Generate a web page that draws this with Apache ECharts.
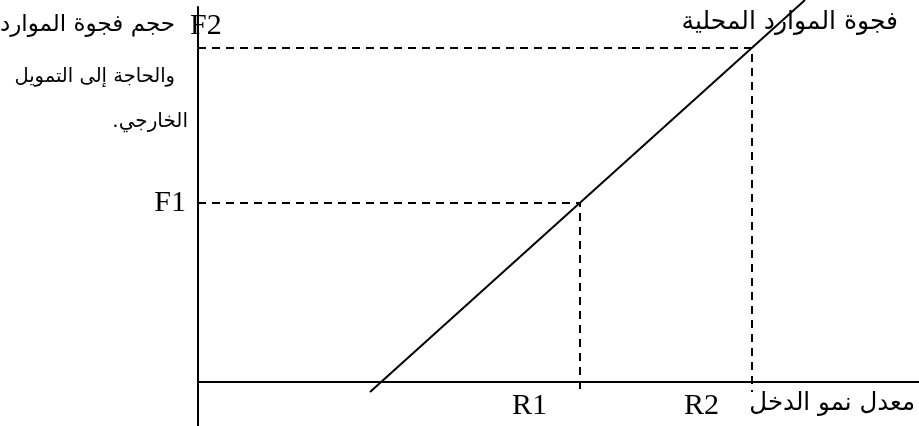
<!DOCTYPE html>
<html>
<head>
<meta charset="utf-8">
<script src="https://cdn.jsdelivr.net/npm/echarts@6/dist/echarts.min.js"></script>
<style>
  html, body { margin: 0; padding: 0; background: #fff; }
  #chart { width: 919px; height: 426px; }
</style>
</head>
<body>
<div id="chart"></div>
<script>
  // 横轴: 收入增长率, 纵轴: 资源缺口
  const gapLineX = [172, 607];
  const gapLineY = [-10, 382];
  const rValues = [382, 554];
  const rLabels = ['R1', 'R2'];
  const fValues = [179, 334];
  const fLabels = ['F1', 'F2'];
  const gapName = 'فجوة الموارد المحلية';
  const xName = 'معدل نمو الدخل';
  const yNameLines = ['حجم فجوة الموارد', 'والحاجة إلى التمويل', 'الخارجي.\u200F'];

  const serif = "'Liberation Serif', 'DejaVu Serif', serif";
  const arabic = "'DejaVu Sans', 'Liberation Sans', sans-serif";

  let chart = echarts.init(document.getElementById('chart'));

  let series = [{
    name: gapName,
    type: 'line',
    data: gapLineX.map(function (x, i) { return [x, gapLineY[i]]; }),
    symbol: 'none',
    clip: false,
    lineStyle: { color: '#000', width: 2 }
  }];
  // 虚线辅助线
  rValues.forEach(function (r, i) {
    series.push({
      name: fLabels[i],
      type: 'line',
      data: [[0, fValues[i]], [r, fValues[i]], [r, gapLineY[0]]],
      symbol: 'none',
      clip: false,
      lineStyle: { color: '#000', width: 2, type: [8, 6] }
    });
  });

  let option = {
    animation: false,
    backgroundColor: '#fff',
    grid: { left: 198, right: 0, top: 7, bottom: 0 },
    xAxis: {
      type: 'value', min: 0, max: 721,
      axisLine: { onZero: true, lineStyle: { color: '#000', width: 2 } },
      axisTick: { show: false }, axisLabel: { show: false }, splitLine: { show: false }
    },
    yAxis: {
      type: 'value', min: -44, max: 375,
      axisLine: { show: true, lineStyle: { color: '#000', width: 2 } },
      axisTick: { show: false }, axisLabel: { show: false }, splitLine: { show: false }
    },
    series: series
  };
  chart.setOption(option);

  // 文字标注
  let px = function (x, y) { return chart.convertToPixel({ gridIndex: 0 }, [x, y]); };
  let texts = [];
  let f1 = px(0, fValues[0]);
  texts.push({ x: f1[0] - 12, y: f1[1], text: fLabels[0], font: serif, size: 30, align: 'right' });
  let f2 = px(0, fValues[1]);
  texts.push({ x: f2[0] - 8, y: f2[1] - 22, text: fLabels[1], font: serif, size: 30, align: 'left' });
  texts.push({ x: 175, y: f2[1] - 23, text: yNameLines[0], font: arabic, size: 23, align: 'right' });
  texts.push({ x: 175, y: 77, text: yNameLines[1], font: arabic, size: 19.5, align: 'right' });
  texts.push({ x: 188, y: 122, text: yNameLines[2], font: arabic, size: 20, align: 'right' });
  rValues.forEach(function (r, i) {
    let p = px(r, 0);
    texts.push({ x: p[0] - 33, y: p[1] + 24, text: rLabels[i], font: serif, size: 30, align: 'right' });
  });
  texts.push({ x: 915, y: 404, text: xName, font: arabic, size: 24.5, align: 'right' });
  texts.push({ x: 898, y: 22, text: gapName, font: arabic, size: 25, align: 'right' });

  chart.setOption({
    graphic: texts.map(function (t) {
      return {
        type: 'text', x: t.x, y: t.y, silent: true,
        style: {
          text: t.text, fill: '#000', font: t.size + 'px ' + t.font,
          align: t.align, verticalAlign: 'middle'
        }
      };
    })
  });
</script>
</body>
</html>
